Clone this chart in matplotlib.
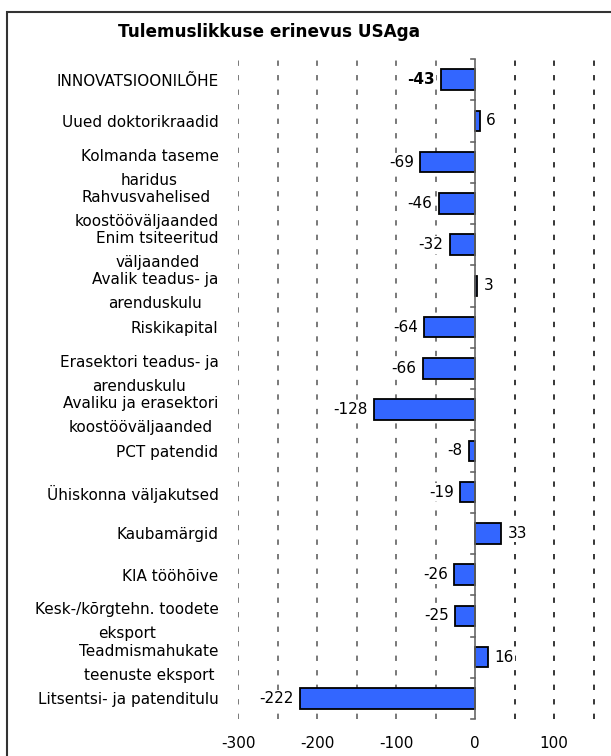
import matplotlib.pyplot as plt
from matplotlib.patches import Rectangle
import numpy as np

# Data -------------------------------------------------------------------------
categories = [
    "INNOVATSIOONILÕHE",
    "Uued doktorikraadid",
    "Kolmanda taseme\nharidus",
    "Rahvusvahelised\nkoostööväljaanded",
    "Enim tsiteeritud\nväljaanded",
    "Avalik teadus- ja\narenduskulu",
    "Riskikapital",
    "Erasektori teadus- ja\narenduskulu",
    "Avaliku ja erasektori\nkoostööväljaanded",
    "PCT patendid",
    "Ühiskonna väljakutsed",
    "Kaubamärgid",
    "KIA tööhõive",
    "Kesk-/kõrgtehn. toodete\neksport",
    "Teadmismahukate\nteenuste eksport",
    "Litsentsi- ja patenditulu",
]
values = [-43, 6, -69, -46, -32, 3, -64, -66, -128, -8, -19, 33, -26, -25, 16, -222]
x_ticks = [-300, -200, -100, 0, 100]
x_tick_labels = ["-300", "-200", "-100", "0", "100"]
title = "Tulemuslikkuse erinevus USAga"

# Figure -----------------------------------------------------------------------
fig = plt.figure(figsize=(6.11, 7.56), dpi=100)
# x range -300..160 -> 79 px per 100 units
ax = fig.add_axes([238 / 611, 37 / 756, 363.4 / 611, 660 / 756])

# outer frame (cut off at right and bottom like the original)
fig.patches.append(Rectangle((7 / 611, -0.1), 1.2, 1.1 - 12 / 756, transform=fig.transFigure,
                             fill=False, edgecolor="#333333", linewidth=1.5))

y = np.arange(len(categories))
ax.barh(y, values, height=0.5, color="#3366ff", edgecolor="black", linewidth=1.3, zorder=3)

ax.set_xlim(-300, 160)
ax.set_ylim(len(categories) - 0.5, -0.5)

# dashed gridlines every 50
for gx in np.arange(-300, 151, 50):
    if gx == 0:
        continue
    col = "#555555" if gx < 0 else "black"
    ax.axvline(gx, color=col, linewidth=1.1, linestyle=(0, (3.5, 6)), zorder=1)

# zero axis with small ticks at category boundaries
ax.axvline(0, color="#666666", linewidth=1.2, zorder=4)
for b in np.arange(-0.5, len(categories), 1.0):
    ax.plot([-5, 0], [b, b], color="#666666", linewidth=1.2, zorder=4, clip_on=False)

# value labels
for yi, v in zip(y, values):
    weight = "bold" if yi == 0 else "normal"
    if v < 0:
        ax.text(v - 8, yi, str(v), ha="right", va="center", fontsize=11, fontweight=weight,
                bbox=dict(facecolor="white", edgecolor="none", pad=1), zorder=5)
    else:
        ax.text(v + 8, yi, str(v), ha="left", va="center", fontsize=11,
                bbox=dict(facecolor="white", edgecolor="none", pad=1), zorder=5)

ax.set_yticks(y)
ax.set_yticklabels(categories, fontsize=11, multialignment="center", linespacing=1.75)
ax.tick_params(axis="y", length=0, pad=14)
ax.set_xticks(x_ticks)
ax.set_xticklabels(x_tick_labels, fontsize=11)
ax.tick_params(axis="x", length=0, pad=12)

for s in ax.spines.values():
    s.set_visible(False)

fig.text(269 / 611, 1 - 32 / 756, title, ha="center", va="center", fontsize=12.2, fontweight="bold")

fig.savefig("out.png", dpi=100)
